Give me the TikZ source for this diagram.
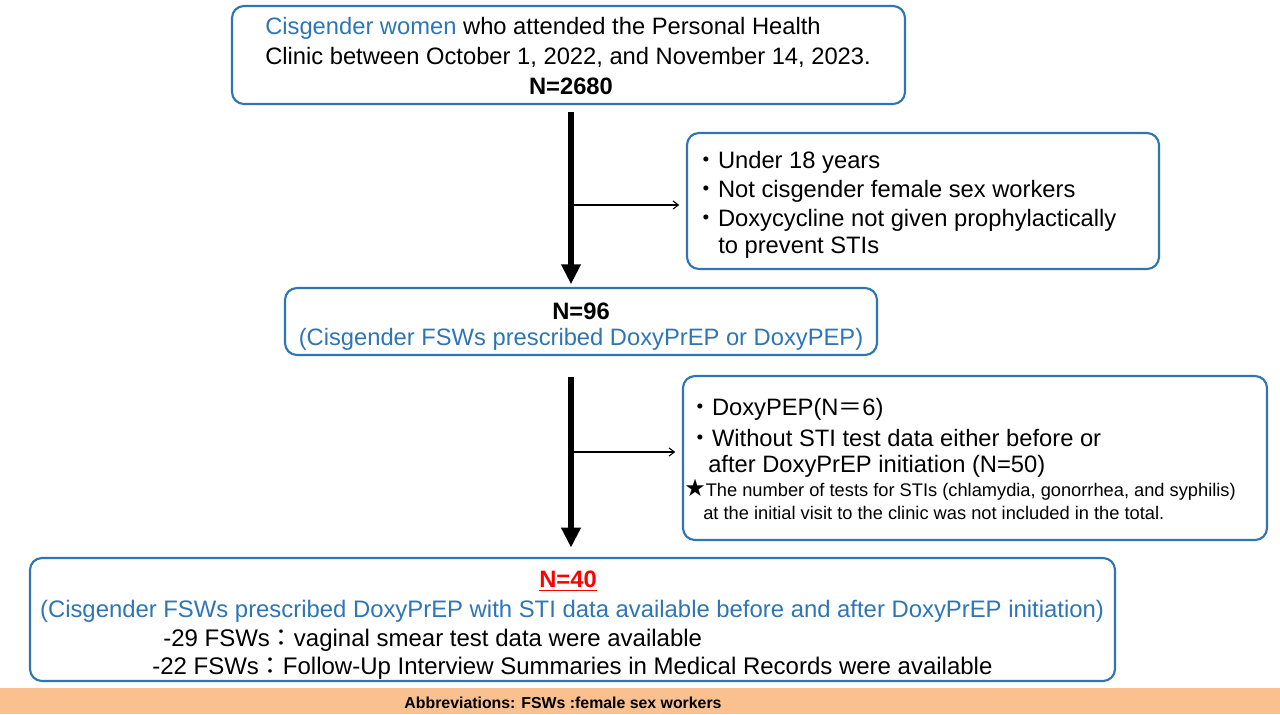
\documentclass[tikz,border=0pt]{standalone}
\usepackage{fontspec}
\setmainfont{Liberation Sans}
\newfontfamily\cjk{Noto Sans CJK JP}
\newfontfamily\symb{DejaVu Sans}
\usetikzlibrary{arrows.meta,fit}
\definecolor{boxblue}{RGB}{46,117,182}
\definecolor{footorange}{RGB}{250,192,143}
\begin{document}
\begin{tikzpicture}[x=0.75pt,y=-0.75pt,
  box/.style={draw=boxblue,line width=1.6pt,rounded corners=9pt,inner sep=0pt},
  txt/.style={anchor=west,inner sep=0pt,font=\fontsize{17.8}{20}\selectfont},
  hd/.style={anchor=center,inner sep=0pt,font=\fontsize{17.8}{20}\selectfont\bfseries},
  note/.style={anchor=west,inner sep=0pt,font=\fontsize{13.7}{15}\selectfont},
  bigarrow/.style={line width=4.5pt,-{Triangle[length=15pt,width=14pt]}},
  smallarrow/.style={line width=0.8pt,-{Straight Barb[length=4pt,width=6pt]}}]
\useasboundingbox (0,0) rectangle (1280,714);

\node[box,fit={(232,6) (905,104)}] (top) {};
\node[txt] (t1) at (265,28) {\textcolor{boxblue}{Cisgender women} who attended the Personal Health};
\node[txt] (t2) at (265,57) {Clinic between October 1, 2022, and November 14, 2023.};
\node[hd] (t3) at (571,86) {N=2680};

\node[box,fit={(687,133) (1159,269)}] (ex1) {};
\node[txt] (e1) at (694,162) {{\cjk ・}Under 18 years};
\node[txt] (e2) at (694,191) {{\cjk ・}Not cisgender female sex workers};
\node[txt] (e3) at (694,220) {{\cjk ・}Doxycycline not given prophylactically};
\node[txt] (e4) at (718,248) {to prevent STIs};

\node[box,fit={(285,288) (877,355)}] (mid) {};
\node[hd] (m1) at (581,311) {N=96};
\node[hd,font=\fontsize{17.8}{20}\selectfont,text=boxblue] (m2) at (581,339) {(Cisgender FSWs prescribed DoxyPrEP or DoxyPEP)};

\node[box,fit={(683,376) (1267,540)}] (ex2) {};
\node[txt] (f1) at (688,409) {{\cjk ・}DoxyPEP(N{\cjk ＝}6)};
\node[txt] (f2) at (688,438) {{\cjk ・}Without STI test data either before or};
\node[txt] (f3) at (708,466) {after DoxyPrEP initiation (N=50)};
\node[note] (f4) at (684,490) {{\symb\fontsize{18}{15}\selectfont ★}The number of tests for STIs (chlamydia, gonorrhea, and syphilis)};
\node[note] (f5) at (703,513) {at the initial visit to the clinic was not included in the total.};

\node[box,fit={(30,558) (1115,681)}] (bot) {};
\node[hd] (b1) at (568,581) {\textcolor{red}{\underline{N=40}}};
\node[hd,font=\fontsize{17.9}{20}\selectfont,text=boxblue] (b2) at (572,611) {(Cisgender FSWs prescribed DoxyPrEP with STI data available before and after DoxyPrEP initiation)};
\node[txt,font=\fontsize{18}{20}\selectfont] (b3) at (163,640) {-29 FSWs{\cjk ：}vaginal smear test data were available};
\node[txt,font=\fontsize{18}{20}\selectfont] (b4) at (152,668) {-22 FSWs{\cjk ：}Follow-Up Interview Summaries in Medical Records were available};

\node[fill=footorange,inner sep=0pt,fit={(0,688) (1280,714)}] (foot) {};
\node[hd,font=\fontsize{11.9}{13}\selectfont\bfseries] (ab) at (563,703) {Abbreviations: FSWs :female sex workers};

\coordinate (s1) at (571,112);
\coordinate (j1) at (571,205);
\coordinate (s2) at (571,377);
\coordinate (j2) at (571,452);
\draw[bigarrow,shorten >=2pt] (s1) -- (s1 |- mid.north);
\draw[smallarrow,shorten >=5pt] (j1) -- (j1 -| ex1.west);
\draw[bigarrow,shorten >=7pt] (s2) -- (s2 |- bot.north);
\draw[smallarrow,shorten >=5pt] (j2) -- (j2 -| ex2.west);
\end{tikzpicture}
\end{document}
